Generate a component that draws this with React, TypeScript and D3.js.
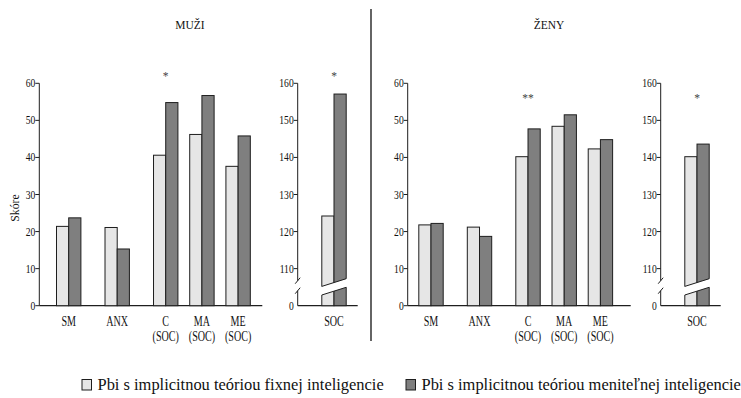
import React, { useRef, useEffect } from 'react';
import * as d3 from 'd3';

// categories of the main panels
const categories = ['SM', 'ANX', 'C', 'MA', 'ME'];
const categorySub = ['', '', '(SOC)', '(SOC)', '(SOC)'];

// MUŽI
const menFixed = [21.4, 21.1, 40.6, 46.2, 37.6];
const menGrowth = [23.7, 15.3, 54.8, 56.7, 45.8];
const menSoc = [124.2, 157.1];

// ŽENY
const womenFixed = [21.8, 21.2, 40.2, 48.4, 42.3];
const womenGrowth = [22.2, 18.7, 47.7, 51.5, 44.8];
const womenSoc = [140.2, 143.6];

const mainTicks = [0, 10, 20, 30, 40, 50, 60];
const socTicks = [110, 120, 130, 140, 150, 160];

const menSig = { C: '*', SOC: '*' };
const womenSig = { C: '**', SOC: '*' };

const legendLabels = [
    'Pbi s implicitnou teóriou fixnej inteligencie',
    'Pbi s implicitnou teóriou meniteľnej inteligencie',
];

const colors = ['#e6e6e6', '#7f7f7f'];
const stroke = '#1e1e1e';
const font = 'Liberation Serif, serif';

// layout of the slots (unit = spacing of C/MA/ME)
const slotIndex = [0, 1.34, 2.68, 3.68, 4.68];

interface PanelSpec {
    title: string;
    titleX: number;
    axisX: number;
    firstSlot: number;
    socAxisX: number;
    sigY: number;
    fixed: number[];
    growth: number[];
    soc: number[];
    sig: { C: string; SOC: string };
}

const App: React.FC = () => {
    const svgRef = useRef<SVGSVGElement | null>(null);

    useEffect(() => {
        if (!svgRef.current) return;
        const svg = d3.select(svgRef.current);
        svg.selectAll('*').remove();

        const top = 83.3;
        const bottom = 305.7;
        const barW = 12.2;

        const y = d3.scaleLinear().domain([0, 60]).range([bottom, top]);
        const ySoc = d3.scaleLinear().domain([100, 160]).range([bottom, top]);
        const slot = d3.scaleLinear().domain([0, 1]).range([0, 36.2]);

        // text squeezed horizontally, like the narrow Times of the original
        const condensed = (
            g: d3.Selection<SVGGElement, unknown, null, undefined>,
            x: number,
            yy: number,
            txt: string,
            size: number,
            sx: number,
            anchor = 'middle',
            fill = '#111',
        ) => {
            g.append('text')
                .attr('transform', `translate(${x},${yy}) scale(${sx},1)`)
                .attr('text-anchor', anchor)
                .style('font-family', font)
                .style('font-size', `${size}px`)
                .attr('fill', fill)
                .text(txt);
        };

        const panels: PanelSpec[] = [
            {
                title: 'MUŽI',
                titleX: 190,
                axisX: 39.3,
                firstSlot: 68.7,
                socAxisX: 297.7,
                sigY: 80,
                fixed: menFixed,
                growth: menGrowth,
                soc: menSoc,
                sig: menSig,
            },
            {
                title: 'ŽENY',
                titleX: 549,
                axisX: 407.7,
                firstSlot: 431,
                socAxisX: 660.7,
                sigY: 102,
                fixed: womenFixed,
                growth: womenGrowth,
                soc: womenSoc,
                sig: womenSig,
            },
        ];

        const root = svg.append('g');

        panels.forEach((p) => {
            const g = root.append('g');

            condensed(g, p.titleX, 29, p.title, 12.5, 0.92);

            // main axis
            g.append('line')
                .attr('x1', p.axisX)
                .attr('x2', p.axisX)
                .attr('y1', y(60))
                .attr('y2', y(0))
                .attr('stroke', stroke);
            g.append('line')
                .attr('x1', p.axisX)
                .attr('x2', p.axisX + 223)
                .attr('y1', y(0))
                .attr('y2', y(0))
                .attr('stroke', stroke)
                .attr('stroke-width', 1.2);
            mainTicks.forEach((t) => {
                g.append('line')
                    .attr('x1', p.axisX - 4)
                    .attr('x2', p.axisX)
                    .attr('y1', y(t))
                    .attr('y2', y(t))
                    .attr('stroke', stroke);
                condensed(g, p.axisX - 4, y(t) + 4, String(t), 12, 0.8, 'end');
            });

            // bars
            categories.forEach((c, i) => {
                const cx = p.firstSlot + slot(slotIndex[i]);
                [p.fixed[i], p.growth[i]].forEach((v, k) => {
                    g.append('rect')
                        .attr('x', cx - barW + k * barW)
                        .attr('y', y(v))
                        .attr('width', barW)
                        .attr('height', y(0) - y(v))
                        .attr('fill', colors[k])
                        .attr('stroke', stroke)
                        .attr('stroke-width', 1);
                });
                condensed(g, cx, 326, c, 14, 0.72);
                if (categorySub[i]) condensed(g, cx, 341, categorySub[i], 14, 0.72);
                if (c === 'C') condensed(g, cx, p.sigY, p.sig.C, 11.5, 1, 'middle', '#444');
            });

            // SOC panel with broken axis
            const sx = p.socAxisX;
            const breakLo = bottom - 15;
            const breakHi = bottom - 26;
            g.append('line')
                .attr('x1', sx)
                .attr('x2', sx)
                .attr('y1', ySoc(160))
                .attr('y2', breakHi + 1)
                .attr('stroke', stroke);
            g.append('line')
                .attr('x1', sx)
                .attr('x2', sx)
                .attr('y1', breakLo)
                .attr('y2', bottom)
                .attr('stroke', stroke);
            [breakHi + 1, breakLo].forEach((yy) => {
                g.append('line')
                    .attr('x1', sx - 2.5)
                    .attr('x2', sx + 2.5)
                    .attr('y1', yy + 3)
                    .attr('y2', yy - 3)
                    .attr('stroke', stroke);
            });
            g.append('line')
                .attr('x1', sx)
                .attr('x2', sx + 60)
                .attr('y1', bottom)
                .attr('y2', bottom)
                .attr('stroke', stroke)
                .attr('stroke-width', 1.2);
            socTicks.forEach((t) => {
                g.append('line')
                    .attr('x1', sx - 4)
                    .attr('x2', sx)
                    .attr('y1', ySoc(t))
                    .attr('y2', ySoc(t))
                    .attr('stroke', stroke);
                condensed(g, sx - 4, ySoc(t) + 4, String(t), 12, 0.8, 'end');
            });
            condensed(g, sx - 4, ySoc(100) + 4, '0', 12, 0.8, 'end');

            const scx = sx + 36.3;
            p.soc.forEach((v, k) => {
                g.append('rect')
                    .attr('x', scx - barW + k * barW)
                    .attr('y', ySoc(v))
                    .attr('width', barW)
                    .attr('height', bottom - ySoc(v))
                    .attr('fill', colors[k])
                    .attr('stroke', stroke)
                    .attr('stroke-width', 1);
            });
            // break band across the SOC bars
            const x0 = scx - barW;
            const x1 = scx + barW;
            const lo0 = bottom - 10.7;
            const lo1 = bottom - 18.4;
            const gap = 8.6;
            g.append('path')
                .attr(
                    'd',
                    `M${x0 - 1},${lo0 + 0.3}L${x1 + 1},${lo1 - 0.3}L${x1 + 1},${lo1 - gap - 0.3}L${x0 - 1},${lo0 - gap + 0.3}Z`,
                )
                .attr('fill', '#fff');
            [0, gap].forEach((o) => {
                g.append('line')
                    .attr('x1', x0)
                    .attr('x2', x1)
                    .attr('y1', lo0 - o)
                    .attr('y2', lo1 - o)
                    .attr('stroke', stroke);
            });
            condensed(g, scx, 326, 'SOC', 14, 0.72);
            condensed(g, scx, p.sigY, p.sig.SOC, 11.5, 1, 'middle', '#444');
        });

        // y title
        root.append('text')
            .attr('transform', 'translate(19,208) rotate(-90) scale(0.9,1)')
            .attr('text-anchor', 'middle')
            .style('font-family', font)
            .style('font-size', '13px')
            .attr('fill', '#111')
            .text('Skóre');

        // divider
        root.append('line')
            .attr('x1', 371)
            .attr('x2', 371)
            .attr('y1', 9)
            .attr('y2', 341)
            .attr('stroke', '#111')
            .attr('stroke-width', 1.3);

        // legend
        const legendX = [82, 406];
        legendLabels.forEach((lab, k) => {
            root.append('rect')
                .attr('x', legendX[k])
                .attr('y', 379.5)
                .attr('width', 9.5)
                .attr('height', 10.5)
                .attr('fill', colors[k])
                .attr('stroke', stroke)
                .attr('stroke-width', 1);
            condensed(root, legendX[k] + 15.5, 390, lab, 17.5, 0.94, 'start');
        });
    }, []);

    return (
        <div style={{ position: 'fixed', left: 0, top: 0, width: 741, height: 398, background: '#fff' }}>
            <svg ref={svgRef} width={741} height={398} style={{ display: 'block' }}></svg>
        </div>
    );
};

export default App;
